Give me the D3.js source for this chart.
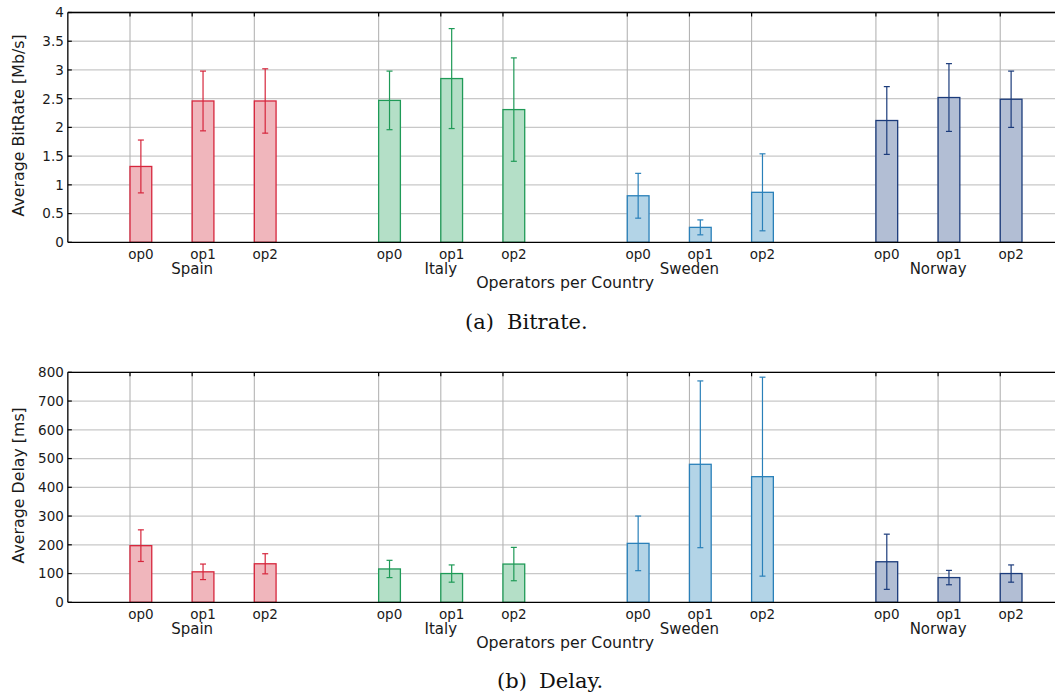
<!DOCTYPE html>
<html>
<head>
<meta charset="utf-8">
<script src="https://cdn.jsdelivr.net/npm/d3@7"></script>
<style>
  html, body { margin: 0; padding: 0; background: #fff; }
  svg { display: block; }
  text { font-family: "DejaVu Sans", sans-serif; fill: #1a1a1a; }
  .caption { font-family: "DejaVu Serif", "Liberation Serif", serif; fill: #111; }
</style>
</head>
<body>
<svg id="fig" width="1055" height="693"></svg>
<script>
// Countries and operators
const countries = ["Spain", "Italy", "Sweden", "Norway"];
const operators = ["op0", "op1", "op2"];

// Per-country colours: edge and fill
const strokeColors = ["#d6263c", "#1f9a57", "#2a80b9", "#1b3b7b"];
const fillColors = ["#f0b6bc", "#b4dfc7", "#b3d4e7", "#b2bed4"];

// Average bitrate [Mb/s] per country (rows) and operator (columns)
const bitrateMean = [
  [1.32, 2.46, 2.46],
  [2.47, 2.85, 2.31],
  [0.81, 0.26, 0.87],
  [2.12, 2.52, 2.49]
];
const bitrateErr = [
  [0.46, 0.52, 0.56],
  [0.51, 0.87, 0.90],
  [0.39, 0.13, 0.67],
  [0.59, 0.59, 0.49]
];

// Average delay [ms]
const delayMean = [
  [197, 106, 134],
  [116, 100, 133],
  [205, 480, 437],
  [141, 86, 100]
];
const delayErr = [
  [55, 27, 35],
  [30, 30, 58],
  [95, 290, 346],
  [96, 25, 30]
];

const bitrateTicks = [0, 0.5, 1, 1.5, 2, 2.5, 3, 3.5, 4];
const delayTicks = [0, 100, 200, 300, 400, 500, 600, 700, 800];

const svg = d3.select("#fig");

// Slot index of each bar: groups of three with one empty slot between groups
const slot = (c, o) => 1 + c * 4 + o;
const barFrac = 0.35;

const x = d3.scaleLinear().domain([0, 16]).range([67.84, 1062.4]);

function panel(cfg) {
  const g = svg.append("g");
  const y = d3.scaleLinear().domain([cfg.ticks[0], cfg.ticks[cfg.ticks.length - 1]])
    .range([cfg.bottom, cfg.top]);

  // horizontal grid
  g.selectAll("line.hg").data(cfg.ticks.slice(1)).join("line")
    .attr("x1", x(0)).attr("x2", x(16))
    .attr("y1", d => y(d)).attr("y2", d => y(d))
    .attr("stroke", "#c8c8c8").attr("stroke-width", 1.3);

  // vertical grid at each operator slot
  const slots = [];
  countries.forEach((c, ci) => operators.forEach((o, oi) => slots.push({ ci, oi, s: slot(ci, oi) })));
  g.selectAll("line.vg").data(slots).join("line")
    .attr("x1", d => x(d.s)).attr("x2", d => x(d.s))
    .attr("y1", cfg.top).attr("y2", cfg.bottom)
    .attr("stroke", "#b4b4b4").attr("stroke-width", 1.1);

  // bars
  const bars = [];
  cfg.mean.forEach((row, ci) => row.forEach((v, oi) =>
    bars.push({ ci, oi, v, e: cfg.err[ci][oi], s: slot(ci, oi) })));

  const bw = x(barFrac) - x(0);
  g.selectAll("rect.bar").data(bars).join("rect")
    .attr("x", d => x(d.s))
    .attr("y", d => y(d.v))
    .attr("width", bw)
    .attr("height", d => y(0) - y(d.v))
    .attr("fill", d => fillColors[d.ci])
    .attr("stroke", d => strokeColors[d.ci])
    .attr("stroke-width", 1.3);

  // error bars
  const eg = g.selectAll("g.err").data(bars).join("g")
    .attr("stroke", d => strokeColors[d.ci]).attr("stroke-width", 1.2);
  eg.append("line")
    .attr("x1", d => x(d.s) + bw / 2).attr("x2", d => x(d.s) + bw / 2)
    .attr("y1", d => y(d.v + d.e)).attr("y2", d => y(Math.max(0, d.v - d.e)));
  [1, -1].forEach(sign => {
    eg.append("line")
      .attr("x1", d => x(d.s) + bw / 2 - 3).attr("x2", d => x(d.s) + bw / 2 + 3)
      .attr("y1", d => y(d.v + sign * d.e)).attr("y2", d => y(d.v + sign * d.e));
  });

  // spines
  g.append("line").attr("x1", x(0)).attr("x2", x(16)).attr("y1", cfg.top).attr("y2", cfg.top)
    .attr("stroke", "#000").attr("stroke-width", 1.3);
  g.append("line").attr("x1", x(0)).attr("x2", x(16)).attr("y1", cfg.bottom).attr("y2", cfg.bottom)
    .attr("stroke", "#000").attr("stroke-width", 1.3);
  g.append("line").attr("x1", x(0)).attr("x2", x(0)).attr("y1", cfg.top).attr("y2", cfg.bottom)
    .attr("stroke", "#000").attr("stroke-width", 1.3);

  // inward ticks on the top spine
  g.selectAll("line.tt").data(slots).join("line")
    .attr("x1", d => x(d.s)).attr("x2", d => x(d.s))
    .attr("y1", cfg.top).attr("y2", cfg.top + 4)
    .attr("stroke", "#000").attr("stroke-width", 1.2);
  // inward ticks on the left spine
  g.selectAll("line.lt").data(cfg.ticks).join("line")
    .attr("x1", x(0)).attr("x2", x(0) + 4)
    .attr("y1", d => y(d)).attr("y2", d => y(d))
    .attr("stroke", "#000").attr("stroke-width", 1.2);

  // y tick labels
  g.selectAll("text.yt").data(cfg.ticks).join("text")
    .attr("x", x(0) - 4).attr("y", d => y(d)).attr("dy", "0.36em")
    .attr("text-anchor", "end").attr("font-size", 13.5)
    .text(d => cfg.fmt(d));

  // operator labels
  g.selectAll("text.op").data(slots).join("text")
    .attr("x", d => x(d.s) + bw / 2).attr("y", cfg.bottom + 12).attr("dy", "0.36em")
    .attr("text-anchor", "middle").attr("font-size", 13.5)
    .text(d => operators[d.oi]);

  // country labels centred under the middle operator
  g.selectAll("text.cn").data(countries).join("text")
    .attr("x", (d, i) => x(slot(i, 1))).attr("y", cfg.bottom + 26.5).attr("dy", "0.36em")
    .attr("text-anchor", "middle").attr("font-size", 15)
    .text(d => d);

  g.append("text")
    .attr("x", (x(0) + x(16)) / 2).attr("y", cfg.bottom + 40.5).attr("dy", "0.36em")
    .attr("text-anchor", "middle").attr("font-size", 15.8)
    .text("Operators per Country");

  g.append("text")
    .attr("transform", `translate(18,${(cfg.top + cfg.bottom) / 2 - 2}) rotate(-90)`)
    .attr("dy", "0.36em")
    .attr("text-anchor", "middle").attr("font-size", 15.8)
    .text(cfg.ylabel);

  // sub-figure caption
  g.append("text").attr("class", "caption")
    .attr("x", cfg.capX).attr("y", cfg.capY).attr("dy", "0.36em")
    .attr("font-size", 21)
    .text(cfg.capTag);
  g.append("text").attr("class", "caption")
    .attr("x", cfg.capX + 42).attr("y", cfg.capY).attr("dy", "0.36em")
    .attr("font-size", 21)
    .text(cfg.caption);
}

panel({
  top: 12.5, bottom: 242.3,
  mean: bitrateMean, err: bitrateErr, ticks: bitrateTicks,
  fmt: d => String(d),
  ylabel: "Average BitRate [Mb/s]",
  capTag: "(a)", caption: "Bitrate.", capX: 465, capY: 321
});

panel({
  top: 372.3, bottom: 602.3,
  mean: delayMean, err: delayErr, ticks: delayTicks,
  fmt: d => String(d),
  ylabel: "Average Delay [ms]",
  capTag: "(b)", caption: "Delay.", capX: 497, capY: 680
});
</script>
</body>
</html>
